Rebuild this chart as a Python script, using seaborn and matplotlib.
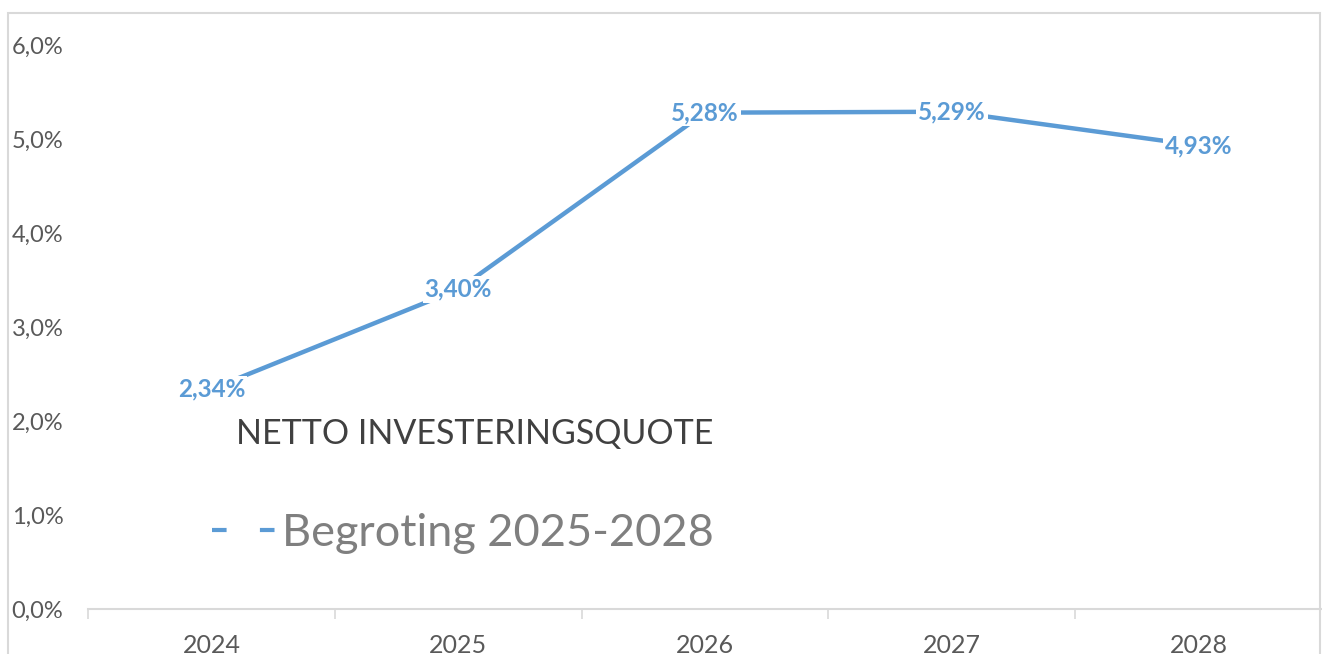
import matplotlib
matplotlib.use("Agg")
import matplotlib.pyplot as plt
import seaborn as sns
import pandas as pd
from matplotlib.lines import Line2D
from matplotlib.patches import Rectangle
from matplotlib.ticker import FuncFormatter, FixedLocator

# data
years = ["2024", "2025", "2026", "2027", "2028"]
quote = [0.0234, 0.0340, 0.0528, 0.0529, 0.0493]
value_labels = ["2,34%", "3,40%", "5,28%", "5,29%", "4,93%"]
series_name = "Begroting 2025-2028"
legend_title = "NETTO INVESTERINGSQUOTE"

blue = "#5b9bd5"
grid_grey = "#d9d9d9"
text_grey = "#595959"

sns.set_theme(style="white")
plt.rcParams["font.family"] = ["Lato", "DejaVu Sans"]

df = pd.DataFrame({"jaar": years, "quote": quote})

fig = plt.figure(figsize=(13.22, 6.54), dpi=100)
W, H = 1322, 654
ax = fig.add_axes([88 / W, (H - 609) / H, (1322 - 88) / W, (609 - 45) / H])

# outer chart frame
fig.patches.append(Rectangle((8 / W, -0.05), (1320 - 8) / W, (H - 13) / H + 0.05,
                             transform=fig.transFigure, fill=False,
                             edgecolor=grid_grey, linewidth=1.5, zorder=0))

sns.lineplot(data=df, x="jaar", y="quote", ax=ax, color=blue, linewidth=3.2,
             sort=False, legend=False, zorder=2)

for i, (v, lab) in enumerate(zip(quote, value_labels)):
    ax.text(i, v, lab, ha="center", va="center", color=blue, fontsize=17.5,
            fontweight="bold", zorder=3,
            bbox=dict(boxstyle="square,pad=0.08", facecolor="white", edgecolor="none"))

ax.set_xlim(-0.5, 4.5)
ax.set_ylim(0, 0.06)
ax.set_yticks([0, 0.01, 0.02, 0.03, 0.04, 0.05, 0.06])
ax.yaxis.set_major_formatter(FuncFormatter(lambda v, p: f"{v * 100:.1f}%".replace(".", ",")))
ax.tick_params(axis="y", length=0, pad=55, labelsize=17, labelcolor=text_grey)
for t in ax.get_yticklabels():
    t.set_horizontalalignment("left")

ax.xaxis.set_minor_locator(FixedLocator([-0.5, 0.5, 1.5, 2.5, 3.5]))
ax.tick_params(axis="x", which="major", length=0, pad=18, labelsize=18, labelcolor=text_grey)
ax.tick_params(axis="x", which="minor", length=7, width=1.2, color=grid_grey, bottom=True)
ax.set_xlabel("")
ax.set_ylabel("")

for s in ["top", "right", "left"]:
    ax.spines[s].set_visible(False)
ax.spines["bottom"].set_color(grid_grey)
ax.spines["bottom"].set_linewidth(1.5)

handle = Line2D([], [], color=blue, linewidth=3, linestyle=(0, (3.5, 8)))
leg = ax.legend(handles=[handle], labels=[series_name], title=legend_title,
                loc="upper left", bbox_to_anchor=((212 - 88) / (1322 - 88), (609 - 418) / 564),
                frameon=False, fontsize=32.5, title_fontsize=24.5, handlelength=1.5,
                handletextpad=0.05, alignment="right", labelspacing=0.3,
                borderpad=0, borderaxespad=0)
leg.get_title().set_color("#404040")
for t in leg.get_texts():
    t.set_color("#7f7f7f")
leg._legend_box.sep = 45

fig.savefig("out.png", dpi=100)
